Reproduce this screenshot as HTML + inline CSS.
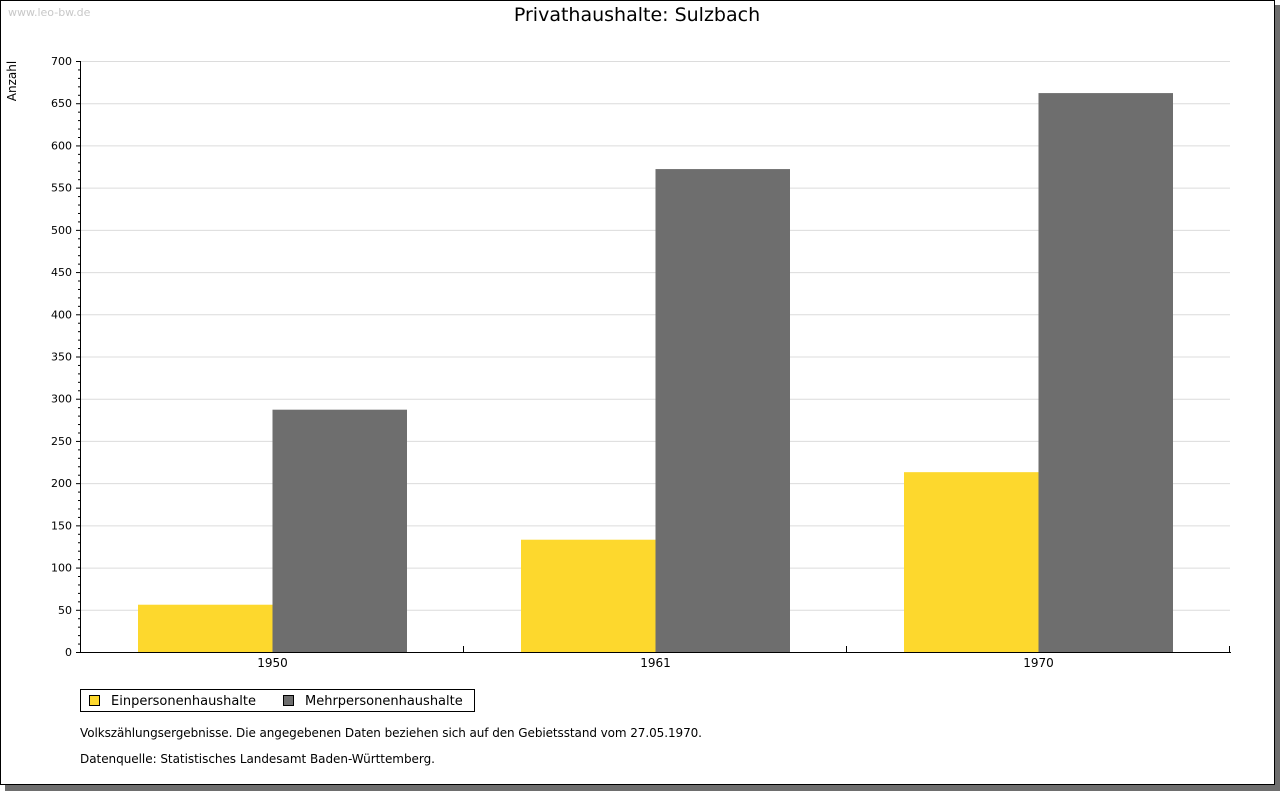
<!DOCTYPE html>
<html><head><meta charset="utf-8"><style>
body{margin:0;width:1280px;height:791px;background:#fff;overflow:hidden;font-family:"DejaVu Sans","Liberation Sans",sans-serif;}
</style></head><body>
<svg width="1280" height="791" xmlns="http://www.w3.org/2000/svg" font-family="DejaVu Sans, Liberation Sans, sans-serif">
<rect x="5" y="5" width="1275" height="786" fill="#6e6e6e"/>
<rect x="0.5" y="0.5" width="1274" height="784" fill="#fff" stroke="#000"/>
<text x="8" y="16" font-size="11" fill="#c8c8c8">www.leo-bw.de</text>
<text x="637" y="21" font-size="19" text-anchor="middle" fill="#000">Privathaushalte: Sulzbach</text>
<text transform="translate(16,81) rotate(-90)" font-size="12" text-anchor="middle">Anzahl</text>
<g id="grid"></g><g id="bars"></g><g id="axes"></g>
<rect x="80.5" y="689.5" width="394" height="22" fill="#fff" stroke="#000"/>
<rect x="89.5" y="695.5" width="10" height="10" fill="#fdd82d" stroke="#000"/>
<text x="111" y="705" font-size="13">Einpersonenhaushalte</text>
<rect x="283.5" y="695.5" width="10" height="10" fill="#6e6e6e" stroke="#000"/>
<text x="305" y="705" font-size="13">Mehrpersonenhaushalte</text>
<text x="80" y="737" font-size="12" textLength="622">Volkszählungsergebnisse. Die angegebenen Daten beziehen sich auf den Gebietsstand vom 27.05.1970.</text>
<text x="80" y="763" font-size="12" textLength="355">Datenquelle: Statistisches Landesamt Baden-Württemberg.</text>
</svg>
<script>
const categories=["1950","1961","1970"];
const einpersonen=[56,133,213];
const mehrpersonen=[287,572,662];
const yTicks=[0,50,100,150,200,250,300,350,400,450,500,550,600,650,700];
const NS="http://www.w3.org/2000/svg";
const X0=81,X1=1230,Y0=652,Y1=61,YMAX=700;
const y=v=>Y0-(v/YMAX)*(Y0-Y1);
const gw=(X1-X0)/categories.length;
function mk(t,a,p){const e=document.createElementNS(NS,t);for(const k in a)e.setAttribute(k,a[k]);p.appendChild(e);return e;}
const grid=document.getElementById('grid'),bars=document.getElementById('bars'),axes=document.getElementById('axes');
yTicks.forEach(v=>{
 if(v>0){const l=mk('line',{x1:X0,x2:X1,y1:y(v)+.5,y2:y(v)+.5,stroke:'#dcdcdc'},grid);
 
 }
 const t=mk('text',{x:72,y:y(v)+4,'font-size':11,'text-anchor':'end'},axes);t.textContent=v;
 
 
 mk('line',{x1:76,x2:X0,y1:y(v)+.5,y2:y(v)+.5,stroke:'#000'},axes);
});
for(let v=10;v<YMAX;v+=10){if(v%50)mk('line',{x1:78,x2:X0,y1:y(v)+.5,y2:y(v)+.5,stroke:'#000'},axes);}
mk('line',{x1:X0-.5,x2:X0-.5,y1:Y1,y2:Y0+1,stroke:'#000'},axes);
mk('line',{x1:X0-1,x2:X1+1,y1:Y0+.5,y2:Y0+.5,stroke:'#000'},axes);
categories.forEach((c,i)=>{
 const gx=X0+i*gw,bw=134.5,bx=gx+gw/2-bw;
 const b1=mk('rect',{x:bx,y:y(einpersonen[i]),width:bw,height:Y0-y(einpersonen[i]),fill:'#fdd82d'},bars);
 
 
 const b2=mk('rect',{x:bx+bw,y:y(mehrpersonen[i]),width:bw,height:Y0-y(mehrpersonen[i]),fill:'#6e6e6e'},bars);
 
 
 const t=mk('text',{x:gx+gw/2,y:667,'font-size':12,'text-anchor':'middle'},axes);t.textContent=c;
 
 
 mk('line',{x1:Math.round(gx+gw)-.5,x2:Math.round(gx+gw)-.5,y1:Y0-6,y2:Y0,stroke:'#000'},axes);
});
</script>
</body></html>
